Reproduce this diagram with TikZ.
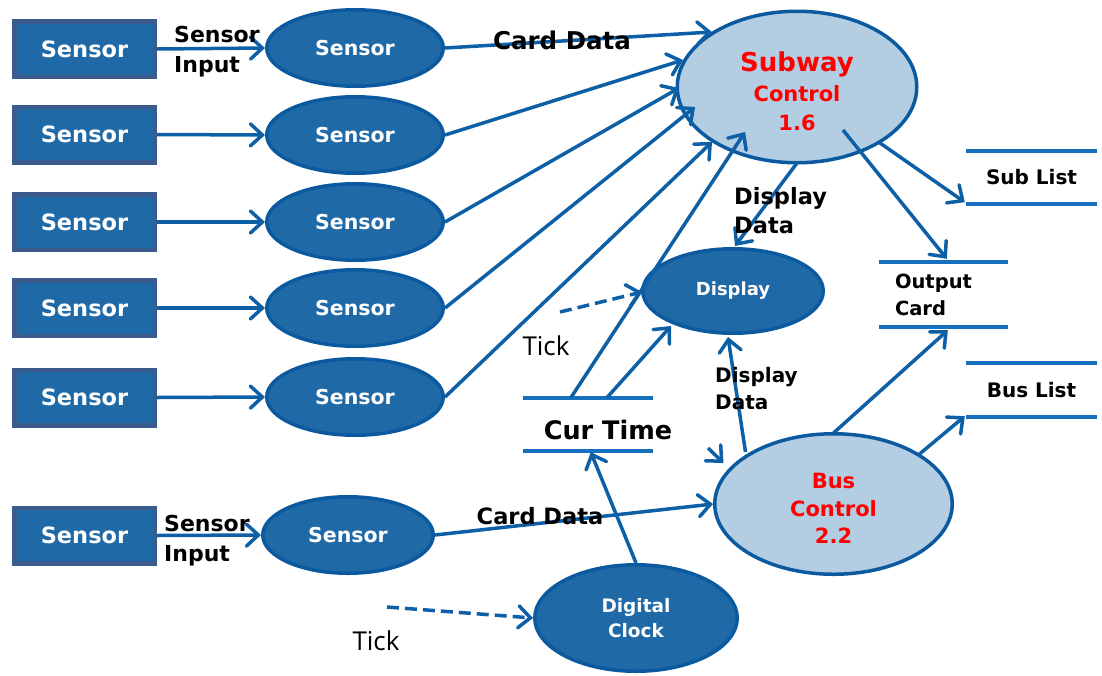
\documentclass[tikz,border=0pt]{standalone}
\usepackage{fontspec}
\setmainfont{DejaVu Sans}
\newfontfamily\tickfont{Open Sans}
\usetikzlibrary{shapes.geometric,arrows.meta,calc}
\definecolor{procfill}{HTML}{1E69A6}
\definecolor{procedge}{HTML}{0B5AA0}
\definecolor{boxedge}{HTML}{3A5B8C}
\definecolor{ctrlfill}{HTML}{B3CEE2}
\definecolor{flowcol}{HTML}{0D5FA6}
\definecolor{storecol}{HTML}{1670BD}
\newcommand{\fsz}[1]{\fontsize{#1}{#1}\selectfont}
\begin{document}
\begin{tikzpicture}[x=1pt,y=-1pt,
  srcbox/.style={draw=boxedge, line width=4.5pt, fill=procfill, minimum width=140.5pt,
    minimum height=55.5pt, inner sep=0pt, text=white, font=\fontsize{22.5}{26}\selectfont\bfseries},
  proc/.style={ellipse, draw=procedge, line width=3.5pt, fill=procfill, inner sep=0pt,
    text=white, align=center, font=\bfseries},
  ctrl/.style={ellipse, draw=procedge, line width=3.5pt, fill=ctrlfill, inner sep=0pt,
    text=red, align=center, font=\bfseries},
  store/.style={inner sep=0pt, font=\fontsize{20}{26}\selectfont\bfseries},
  storeline/.style={draw=storecol, line width=4pt},
  flow/.style={draw=flowcol, line width=3.5pt,
    -{Straight Barb[length=12pt,width=22pt,line cap=round]}},
  tickflow/.style={flow, dash pattern=on 12pt off 6pt},
  lbl/.style={align=left, inner sep=0pt, text=black, font=\bfseries},
  ticklbl/.style={inner sep=0pt, font=\tickfont\fontsize{26}{30}\selectfont}
]
\useasboundingbox (0,0) rectangle (1102,675);

% external sensors
\node[srcbox] (b1) at (84.5,49) {Sensor};
\node[srcbox] (b2) at (84.5,134.5) {Sensor};
\node[srcbox] (b3) at (84.5,222) {Sensor};
\node[srcbox] (b4) at (84.5,308) {Sensor};
\node[srcbox] (b5) at (84.5,397.5) {Sensor};
\node[srcbox] (b6) at (84.5,535.5) {Sensor};

% sensor processes
\tikzset{sensorproc/.style={proc, minimum width=176.5pt, minimum height=76.5pt, font=\fsz{20.5}\bfseries}}
\node[sensorproc] (s1) at (355,48) {Sensor};
\node[sensorproc] (s2) at (355,135) {Sensor};
\node[sensorproc] (s3) at (355,222) {Sensor};
\node[sensorproc] (s4) at (355,308) {Sensor};
\node[sensorproc] (s5) at (355,397) {Sensor};
\node[sensorproc, minimum width=170.5pt] (s6) at (348,535) {Sensor};

% control processes
\node[ctrl, minimum width=239.5pt, minimum height=151.5pt] (sub) at (797,87)
  {\rule{0pt}{28pt}{\fsz{26}Subway}\\[8pt]{\fsz{21}Control}\\[12pt]{\fsz{21}1.6}};
\node[ctrl, minimum width=237.5pt, minimum height=140.5pt] (bus) at (833.5,504)
  {\rule{0pt}{24pt}{\fsz{21}Bus}\\[10pt]{\fsz{21}Control}\\[10pt]{\fsz{21}2.2}};
\node[proc, minimum width=180.5pt, minimum height=84.5pt, font=\fsz{18}\bfseries] (disp) at (733,291) {Display};
\node[proc, minimum width=202.5pt, minimum height=106.5pt, font=\fsz{18.5}\bfseries] (dc) at (636,618)
  {Digital\\[7pt]Clock};

% data stores
\node[store, minimum width=130pt, minimum height=53pt] (ct) at (588,424.5) {};
\node[store, minimum width=131pt, minimum height=53pt] (sublist) at (1031.5,177.5) {Sub List};
\node[store, minimum width=129pt, minimum height=65pt, text width=97pt, inner xsep=16pt,
  align=left, font=\fontsize{19.5}{27}\selectfont\bfseries] (oc) at (943.5,294.5) {Output\\Card};
\node[store, minimum width=131pt, minimum height=54pt] (buslist) at (1031.5,390) {Bus List};
\foreach \s in {ct,sublist,oc,buslist}{
  \draw[storeline] (\s.north west) -- (\s.north east) (\s.south west) -- (\s.south east);
}

% sensor inputs
\foreach \i in {1,...,6}{ \draw[flow] (b\i.east) -- (s\i.west); }

% card data into the control processes
\draw[flow] (s1.east) -- ($(sub.center)+(-85,-55)$);
\draw[flow] (s2.east) -- ($(sub.center)+(-114,-27)$);
\draw[flow] (s3.east) -- ($(sub.center)+(-118,1)$);
\draw[flow] (s4.east) -- ($(sub.center)+(-102,20)$);
\draw[flow] (s5.east) -- ($(sub.center)+(-85,55)$);
\draw[flow] (s6.east) -- (bus.west);

% current time
\draw[flow] ($(ct.north west)+(48,0)$) -- ($(sub.center)+(-52,45)$);
\draw[flow] ($(ct.north west)+(84,0)$) -- ($(disp.center)+(-62,35)$);
\draw[flow] (dc.north) -- ($(ct.south west)+(68,1)$);

% display data
\draw[flow] ($(sub.center)+(0,76)$) -- ($(disp.north)+(2,-1)$);
\draw[flow] ($(bus.center)+(-88,-52)$) -- ($(disp.south)+(-5,2)$);
\coordinate (stub) at (708,448);
\draw[flow] (stub) -- ($(bus.center)+(-110,-41)$);

% outputs
\draw[flow] ($(sub.center)+(83,56)$) -- ($(sublist.south west)+(-1,-2)$);
\draw[flow] ($(sub.center)+(46,43)$) -- ($(oc.north west)+(68,-3)$);
\draw[flow] ($(bus.center)+(0,-71)$) -- ($(oc.south west)+(69,3)$);
\draw[flow] ($(bus.center)+(86,-50)$) -- ($(buslist.south west)+(-1,-1)$);

% clock ticks
\coordinate (tick1) at (560,312);
\coordinate (tick2) at (387,607);
\draw[tickflow] (tick1) -- ($(disp.center)+(-91,1)$);
\draw[tickflow] (tick2) -- (dc.west);

% flow labels
\node[lbl, anchor=west, font=\fontsize{22}{30}\selectfont\bfseries] (in1) at (174,52) {Sensor\\Input};
\node[lbl, anchor=west, font=\fontsize{22}{30}\selectfont\bfseries] (in6) at (164,541) {Sensor\\Input};
\node[lbl, font=\fsz{24.5}\bfseries] (cd1) at (562,40) {Card Data};
\node[lbl, font=\fsz{22.5}\bfseries] (cd6) at (540,516) {Card Data};
\node[lbl, anchor=west, font=\fontsize{22.5}{29}\selectfont\bfseries] (dd1) at (734,211) {Display\\Data};
\node[lbl, anchor=west, font=\fontsize{20}{27}\selectfont\bfseries] (dd2) at (715,389) {Display\\Data};
\node[lbl, font=\fsz{25.5}\bfseries] (cttext) at (608,430) {Cur Time};
\node[ticklbl] (t1) at (546,346) {Tick};
\node[ticklbl] (t2) at (376,641) {Tick};
\end{tikzpicture}
\end{document}
